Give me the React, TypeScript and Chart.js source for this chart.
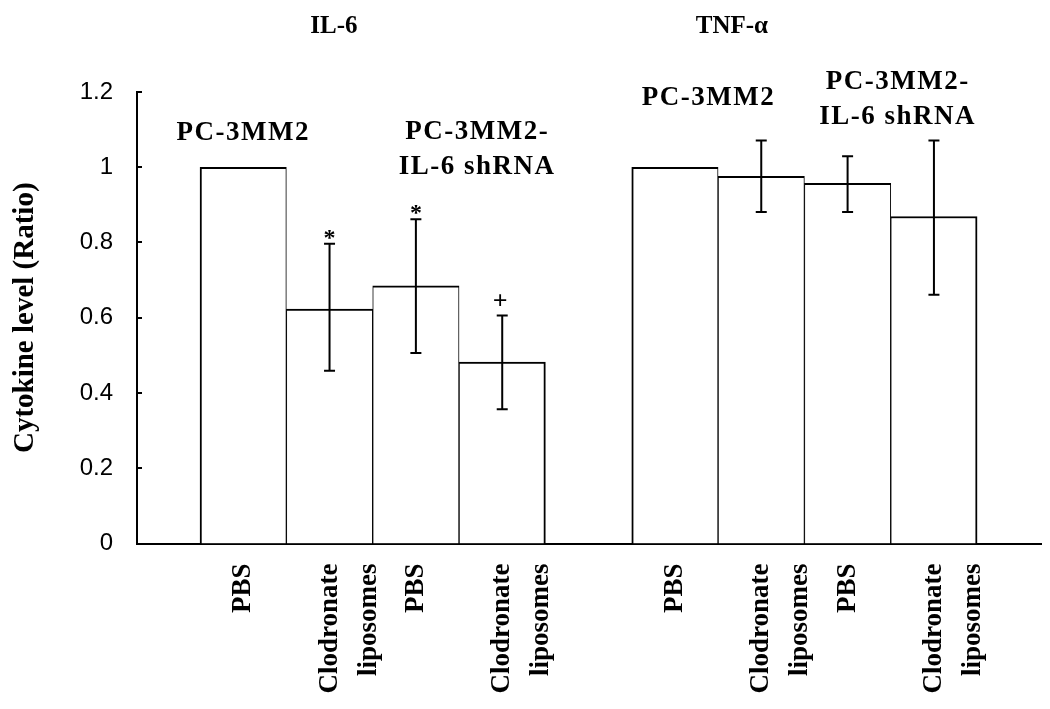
import React, { useEffect, useRef } from "react";
import { Chart, registerables } from "chart.js";

Chart.register(...registerables);

// ---- data ----
const xPositions = [0, 1, 2, 3, 5, 6, 7, 8];
const xLabels: (string | string[])[] = [
  "PBS",
  ["Clodronate", "liposomes"],
  "PBS",
  ["Clodronate", "liposomes"],
  "PBS",
  ["Clodronate", "liposomes"],
  "PBS",
  ["Clodronate", "liposomes"],
];
const values = [1.0, 0.623, 0.685, 0.482, 1.0, 0.976, 0.957, 0.869];
const errHigh: (number | null)[] = [null, 0.797, 0.862, 0.606, null, 1.071, 1.029, 1.071];
const errLow: (number | null)[] = [null, 0.459, 0.506, 0.357, null, 0.881, 0.881, 0.661];
const sigMarks = ["", "*", "*", "+", "", "", "", ""];
const yTicks = [0, 0.2, 0.4, 0.6, 0.8, 1, 1.2];
const yTickLabels = ["0", "0.2", "0.4", "0.6", "0.8", "1", "1.2"];
const panelTitles = ["IL-6", "TNF-\u03b1"];
const groupLabels = [["PC-3MM2"], ["PC-3MM2-", "IL-6 shRNA"], ["PC-3MM2"], ["PC-3MM2-", "IL-6 shRNA"]];
const yTitle = "Cytokine level (Ratio)";

// ---- annotation anchors (data units) ----
const panelTitleAnchor = { x: [1.05, 5.66], y: 1.374 };
const groupLabelAnchor = { x: [0.0, 2.71, 5.39, 7.58], y: [1.092, 1.094, 1.185, 1.227] };

const SERIF = "'Liberation Serif', 'Times New Roman', serif";
const SANS = "'Liberation Sans', Arial, sans-serif";

const overlay = {
  id: "overlay",
  afterDatasetsDraw(chart: any) {
    const ctx = chart.ctx as CanvasRenderingContext2D;
    const ys = chart.scales.y;
    const meta = chart.getDatasetMeta(0);
    ctx.save();
    ctx.strokeStyle = "#000";
    ctx.fillStyle = "#000";
    ctx.lineWidth = 2;
    meta.data.forEach((bar: any, i: number) => {
      const hi = errHigh[i];
      const lo = errLow[i];
      if (hi == null || lo == null) return;
      const x = bar.x;
      const yt = ys.getPixelForValue(hi);
      const yb = ys.getPixelForValue(lo);
      ctx.beginPath();
      ctx.moveTo(x, yt);
      ctx.lineTo(x, yb);
      ctx.moveTo(x - 5.5, yt);
      ctx.lineTo(x + 5.5, yt);
      ctx.moveTo(x - 5.5, yb);
      ctx.lineTo(x + 5.5, yb);
      ctx.stroke();
      const m = sigMarks[i];
      if (m) {
        ctx.textAlign = "center";
        ctx.textBaseline = "alphabetic";
        if (m === "+") {
          ctx.font = `bold 26px ${SERIF}`;
          ctx.fillText(m, x - 2, yt - 6);
        } else {
          ctx.font = `bold 24px ${SERIF}`;
          ctx.fillText(m, x, yt + 1);
        }
      }
    });
    ctx.restore();
  },
  afterDraw(chart: any) {
    const ctx = chart.ctx as CanvasRenderingContext2D;
    const xs = chart.scales.x;
    const ys = chart.scales.y;
    const left = chart.chartArea.left;
    ctx.save();
    // inner tick marks
    ctx.strokeStyle = "#000";
    ctx.lineWidth = 2;
    ctx.beginPath();
    yTicks.forEach((v) => {
      const y = Math.round(ys.getPixelForValue(v)) + 0.0;
      ctx.moveTo(left, y);
      ctx.lineTo(left + 5, y);
    });
    ctx.stroke();

    ctx.fillStyle = "#000";
    ctx.textAlign = "center";
    ctx.textBaseline = "middle";
    // panel titles
    ctx.font = `bold 25px ${SERIF}`;
    panelTitles.forEach((t, i) => {
      ctx.fillText(t, xs.getPixelForValue(panelTitleAnchor.x[i]), ys.getPixelForValue(panelTitleAnchor.y));
    });
    // group labels
    ctx.font = `bold 27px ${SERIF}`;
    try {
      (ctx as any).letterSpacing = "1.5px";
    } catch (e) {}
    groupLabels.forEach((lines, i) => {
      const cx = xs.getPixelForValue(groupLabelAnchor.x[i]);
      const cy = ys.getPixelForValue(groupLabelAnchor.y[i]);
      lines.forEach((ln, j) => {
        ctx.fillText(ln, cx, cy + j * 35);
      });
    });
    ctx.restore();
  },
};

export default function App() {
  const ref = useRef<HTMLCanvasElement | null>(null);
  useEffect(() => {
    if (!ref.current) return;
    const chart = new Chart(ref.current, {
      type: "bar",
      data: {
        datasets: [
          {
            data: xPositions.map((x, i) => ({ x, y: values[i] })),
            backgroundColor: "#ffffff",
            borderColor: "#000000",
            borderWidth: (c: any) => ({
              top: 2,
              left: c.dataIndex % 4 === 0 ? 2 : 1,
              right: c.dataIndex % 4 === 3 ? 2 : 1,
              bottom: 0,
            }),
            borderSkipped: "bottom",
            barPercentage: 1,
            categoryPercentage: 1,
          },
        ],
      },
      options: {
        animation: false,
        responsive: true,
        maintainAspectRatio: false,
        layout: { padding: { top: 84, right: 1, left: 0, bottom: 0 } },
        plugins: {
          legend: { display: false },
          tooltip: { enabled: false },
          title: { display: false },
        },
        scales: {
          x: {
            type: "linear",
            min: -1.23,
            max: 9.24,
            offset: false,
            grid: { display: false, drawTicks: false },
            border: { display: true, color: "#000", width: 2 },
            afterBuildTicks: (s: any) => {
              s.ticks = xPositions.map((v) => ({ value: v }));
            },
            afterFit: (s: any) => {
              s.height = 157.5;
            },
            ticks: {
              autoSkip: false,
              minRotation: 90,
              maxRotation: 90,
              padding: 20,
              color: "#000",
              font: { family: SERIF, size: 27, weight: "bold", lineHeight: 1.45 },
              callback: (_v: any, i: number) => xLabels[i],
            },
          },
          y: {
            min: 0,
            max: 1.2,
            grid: { display: false, drawTicks: false },
            border: { display: true, color: "#000", width: 2 },
            afterBuildTicks: (s: any) => {
              s.ticks = yTicks.map((v) => ({ value: v }));
            },
            afterFit: (s: any) => {
              s.width = 129;
            },
            ticks: {
              padding: 24,
              color: "#000",
              font: { family: SANS, size: 24 },
              callback: (_v: any, i: number) => yTickLabels[i],
            },
            title: {
              display: true,
              text: yTitle,
              color: "#000",
              padding: 0,
              font: { family: SERIF, size: 29, weight: "bold" },
            },
          },
        },
      },
      plugins: [overlay],
    } as any);
    return () => chart.destroy();
  }, []);
  return (
    <div style={{ position: "relative", width: 1034, height: 693 }}>
      <canvas ref={ref} />
    </div>
  );
}
